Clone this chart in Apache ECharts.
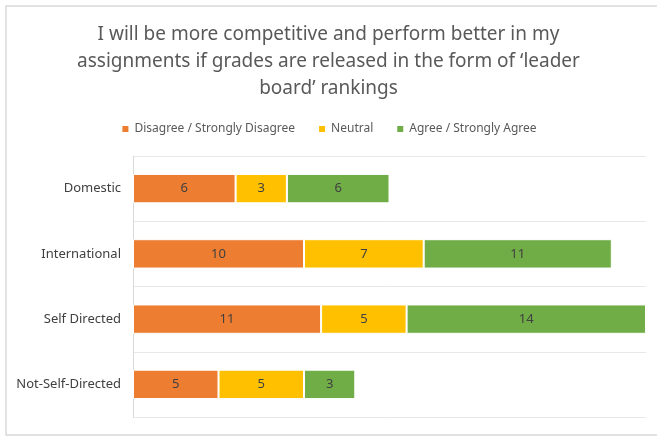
<!DOCTYPE html>
<html>
<head>
<meta charset="utf-8">
<script src="https://cdn.jsdelivr.net/npm/echarts@6/dist/echarts.min.js"></script>
<style>
  html, body { margin: 0; padding: 0; background: #fff; }
  #chart { width: 657px; height: 436px; }
</style>
</head>
<body>
<div id="chart"></div>
<script>
const categories = ['Domestic', 'International', 'Self Directed', 'Not-Self-Directed']
const disagree = [6, 10, 11, 5]
const neutral = [3, 7, 5, 5]
const agree = [6, 11, 14, 3]
const seriesNames = ['Disagree / Strongly Disagree', 'Neutral', 'Agree / Strongly Agree']

const font = 'Noto Sans'
const barLabel = {
    show: true,
    position: 'inside',
    color: '#404040',
    fontSize: 13,
    fontFamily: font
}
const makeSeries = (name, data) => ({
    name: name,
    type: 'bar',
    stack: 'total',
    data: data,
    barWidth: '45%',
    label: barLabel,
    itemStyle: { borderColor: '#fff', borderWidth: 1 }
})

let myChart = echarts.init(document.getElementById('chart'))
myChart.setOption({
    animation: false,
    color: ['#ed7d31', '#ffc000', '#70ad47'],
    title: {
        text: 'I will be more competitive and perform better in my\nassignments if grades are released in the form of \u2018leader\nboard\u2019 rankings',
        left: 'center',
        top: 16,
        textStyle: {
            fontFamily: font,
            fontWeight: 'normal',
            fontSize: 19,
            lineHeight: 27,
            color: '#595959'
        }
    },
    legend: {
        top: 118,
        left: 'center',
        itemWidth: 8,
        itemHeight: 8,
        itemGap: 22,
        icon: 'rect',
        textStyle: { fontFamily: font, fontSize: 12, color: '#595959' },
        data: seriesNames
    },
    graphic: [{
        type: 'rect',
        shape: { x: 6, y: 6, width: 700, height: 429 },
        style: { fill: 'none', stroke: '#d9d9d9', lineWidth: 1.5 },
        silent: true
    }],
    grid: { left: 133, right: 11, top: 156, bottom: 19 },
    xAxis: {
        type: 'value',
        min: 0,
        max: 30,
        axisLine: { show: false },
        axisLabel: { show: false },
        axisTick: { show: false },
        splitLine: { show: false }
    },
    yAxis: {
        type: 'category',
        inverse: true,
        data: categories,
        axisLine: { show: true, lineStyle: { color: '#d9d9d9' } },
        axisTick: { show: false },
        axisLabel: { fontFamily: font, fontSize: 13, color: '#404040', margin: 12 },
        splitLine: { show: true, lineStyle: { color: '#e8e8e8' } }
    },
    series: [
        makeSeries(seriesNames[0], disagree),
        makeSeries(seriesNames[1], neutral),
        makeSeries(seriesNames[2], agree)
    ]
})
</script>
</body>
</html>
